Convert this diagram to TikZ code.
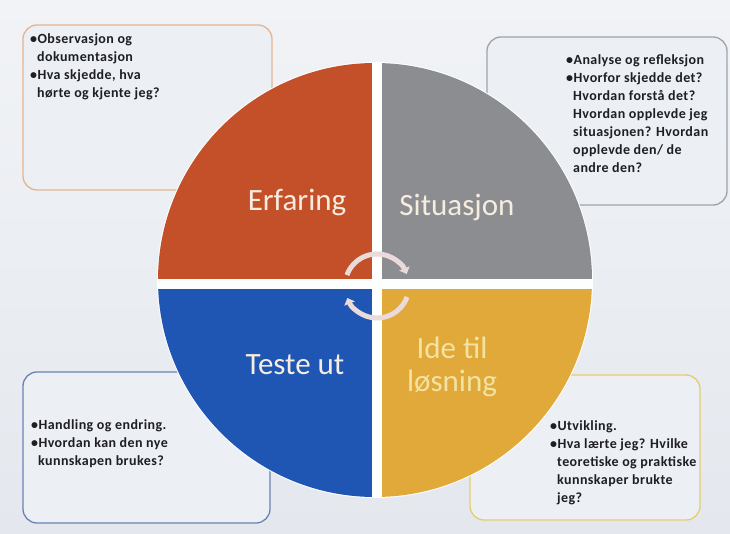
\documentclass[tikz,border=0pt]{standalone}
\usepackage{fontspec}
\setmainfont{Carlito}
\newfontfamily\notefont[LetterSpace=3]{Carlito}
\usetikzlibrary{arrows.meta}

\definecolor{paper}{HTML}{E4E8EE}
\definecolor{paperTop}{HTML}{F1F3F6}
\definecolor{boxfill}{HTML}{ECEFF3}
\definecolor{erfcol}{HTML}{C4502A}
\definecolor{sitcol}{HTML}{8C8D90}
\definecolor{testcol}{HTML}{1F56B3}
\definecolor{idecol}{HTML}{E1A93A}
\definecolor{erfline}{HTML}{E6B48C}
\definecolor{sitline}{HTML}{9EA4AC}
\definecolor{testline}{HTML}{6B82B4}
\definecolor{ideline}{HTML}{E2CE6E}
\definecolor{notetxt}{HTML}{1E1E24}
\definecolor{labeltxt}{HTML}{F6ECDF}
\definecolor{idetxt}{HTML}{F3E3A2}
\definecolor{arrowpink}{HTML}{EBDADA}

\tikzset{
  notebox/.style={rounded corners=14pt, line width=1.3pt, fill=boxfill},
  notetext/.style={anchor=north west, inner sep=0pt, align=left,
    font=\notefont\bfseries\fontsize{14}{18}\selectfont, text=notetxt},
  quadlabel/.style={font=\fontsize{31}{33}\selectfont, text=labeltxt, align=center},
  cyclearrow/.style={line width=5pt, draw=arrowpink, -{Triangle[width=11pt,length=6pt]}}
}
\newcommand{\ind}{\hphantom{•}}

\begin{document}
\begin{tikzpicture}[x=1pt,y=-1pt]
\useasboundingbox (0,0) rectangle (730,534);

% paper
\shade[top color=paperTop, bottom color=paper] (0,0) rectangle (730,534);

% note boxes behind the circle
\draw[notebox, draw=erfline] (23,25) rectangle (272,190);
\draw[notebox, draw=sitline] (487,37) rectangle (727,205);
\draw[notebox, draw=testline] (23,372) rectangle (270,523);
\draw[notebox, draw=ideline] (470,375) rectangle (700,520);

% circle in four parts
\coordinate (ctr) at (375,280);
\fill[white!94!paper] (ctr) circle (218);
\begin{scope}
  \clip (ctr) circle (217);
  \fill[erfcol] (150,50) rectangle (372,279);
  \fill[sitcol] (382,50) rectangle (600,279);
  \fill[testcol] (150,289) rectangle (372,510);
  \fill[idecol] (382,289) rectangle (600,510);
\end{scope}

% cycle arrows
\coordinate (turn) at (377,286);
\draw[cyclearrow] (turn) ++(200:32) arc[start angle=200, end angle=338, radius=32];
\draw[cyclearrow] (turn) ++(20:32) arc[start angle=20, end angle=158, radius=32];

% labels
\node[quadlabel] (erfaring) at (297,203) {Erfaring};
\node[quadlabel] (situasjon) at (457,207) {Situasjon};
\node[quadlabel] (teste) at (295,365) {Teste ut};
\node[quadlabel, text=idetxt] (ide) at (452,367) {Ide til\\løsning};

% notes
\node[notetext] (erfnote) at (30,33) {•Observasjon og\\\ind dokumentasjon\\•Hva skjedde, hva\\\ind hørte og kjente jeg?};
\node[notetext] (sitnote) at (566,54) {•Analyse og refleksjon\\•Hvorfor skjedde det?\\\ind Hvordan forstå det?\\\ind Hvordan opplevde jeg\\\ind situasjonen? Hvordan\\\ind opplevde den/ de\\\ind andre den?};
\node[notetext] (testnote) at (31,419) {•Handling og endring.\\•Hvordan kan den nye\\\ind kunnskapen brukes?};
\node[notetext] (idenote) at (550,420) {•Utvikling.\\•Hva lærte jeg? Hvilke\\\ind teoretiske og praktiske\\\ind kunnskaper brukte\\\ind jeg?};
\end{tikzpicture}
\end{document}
